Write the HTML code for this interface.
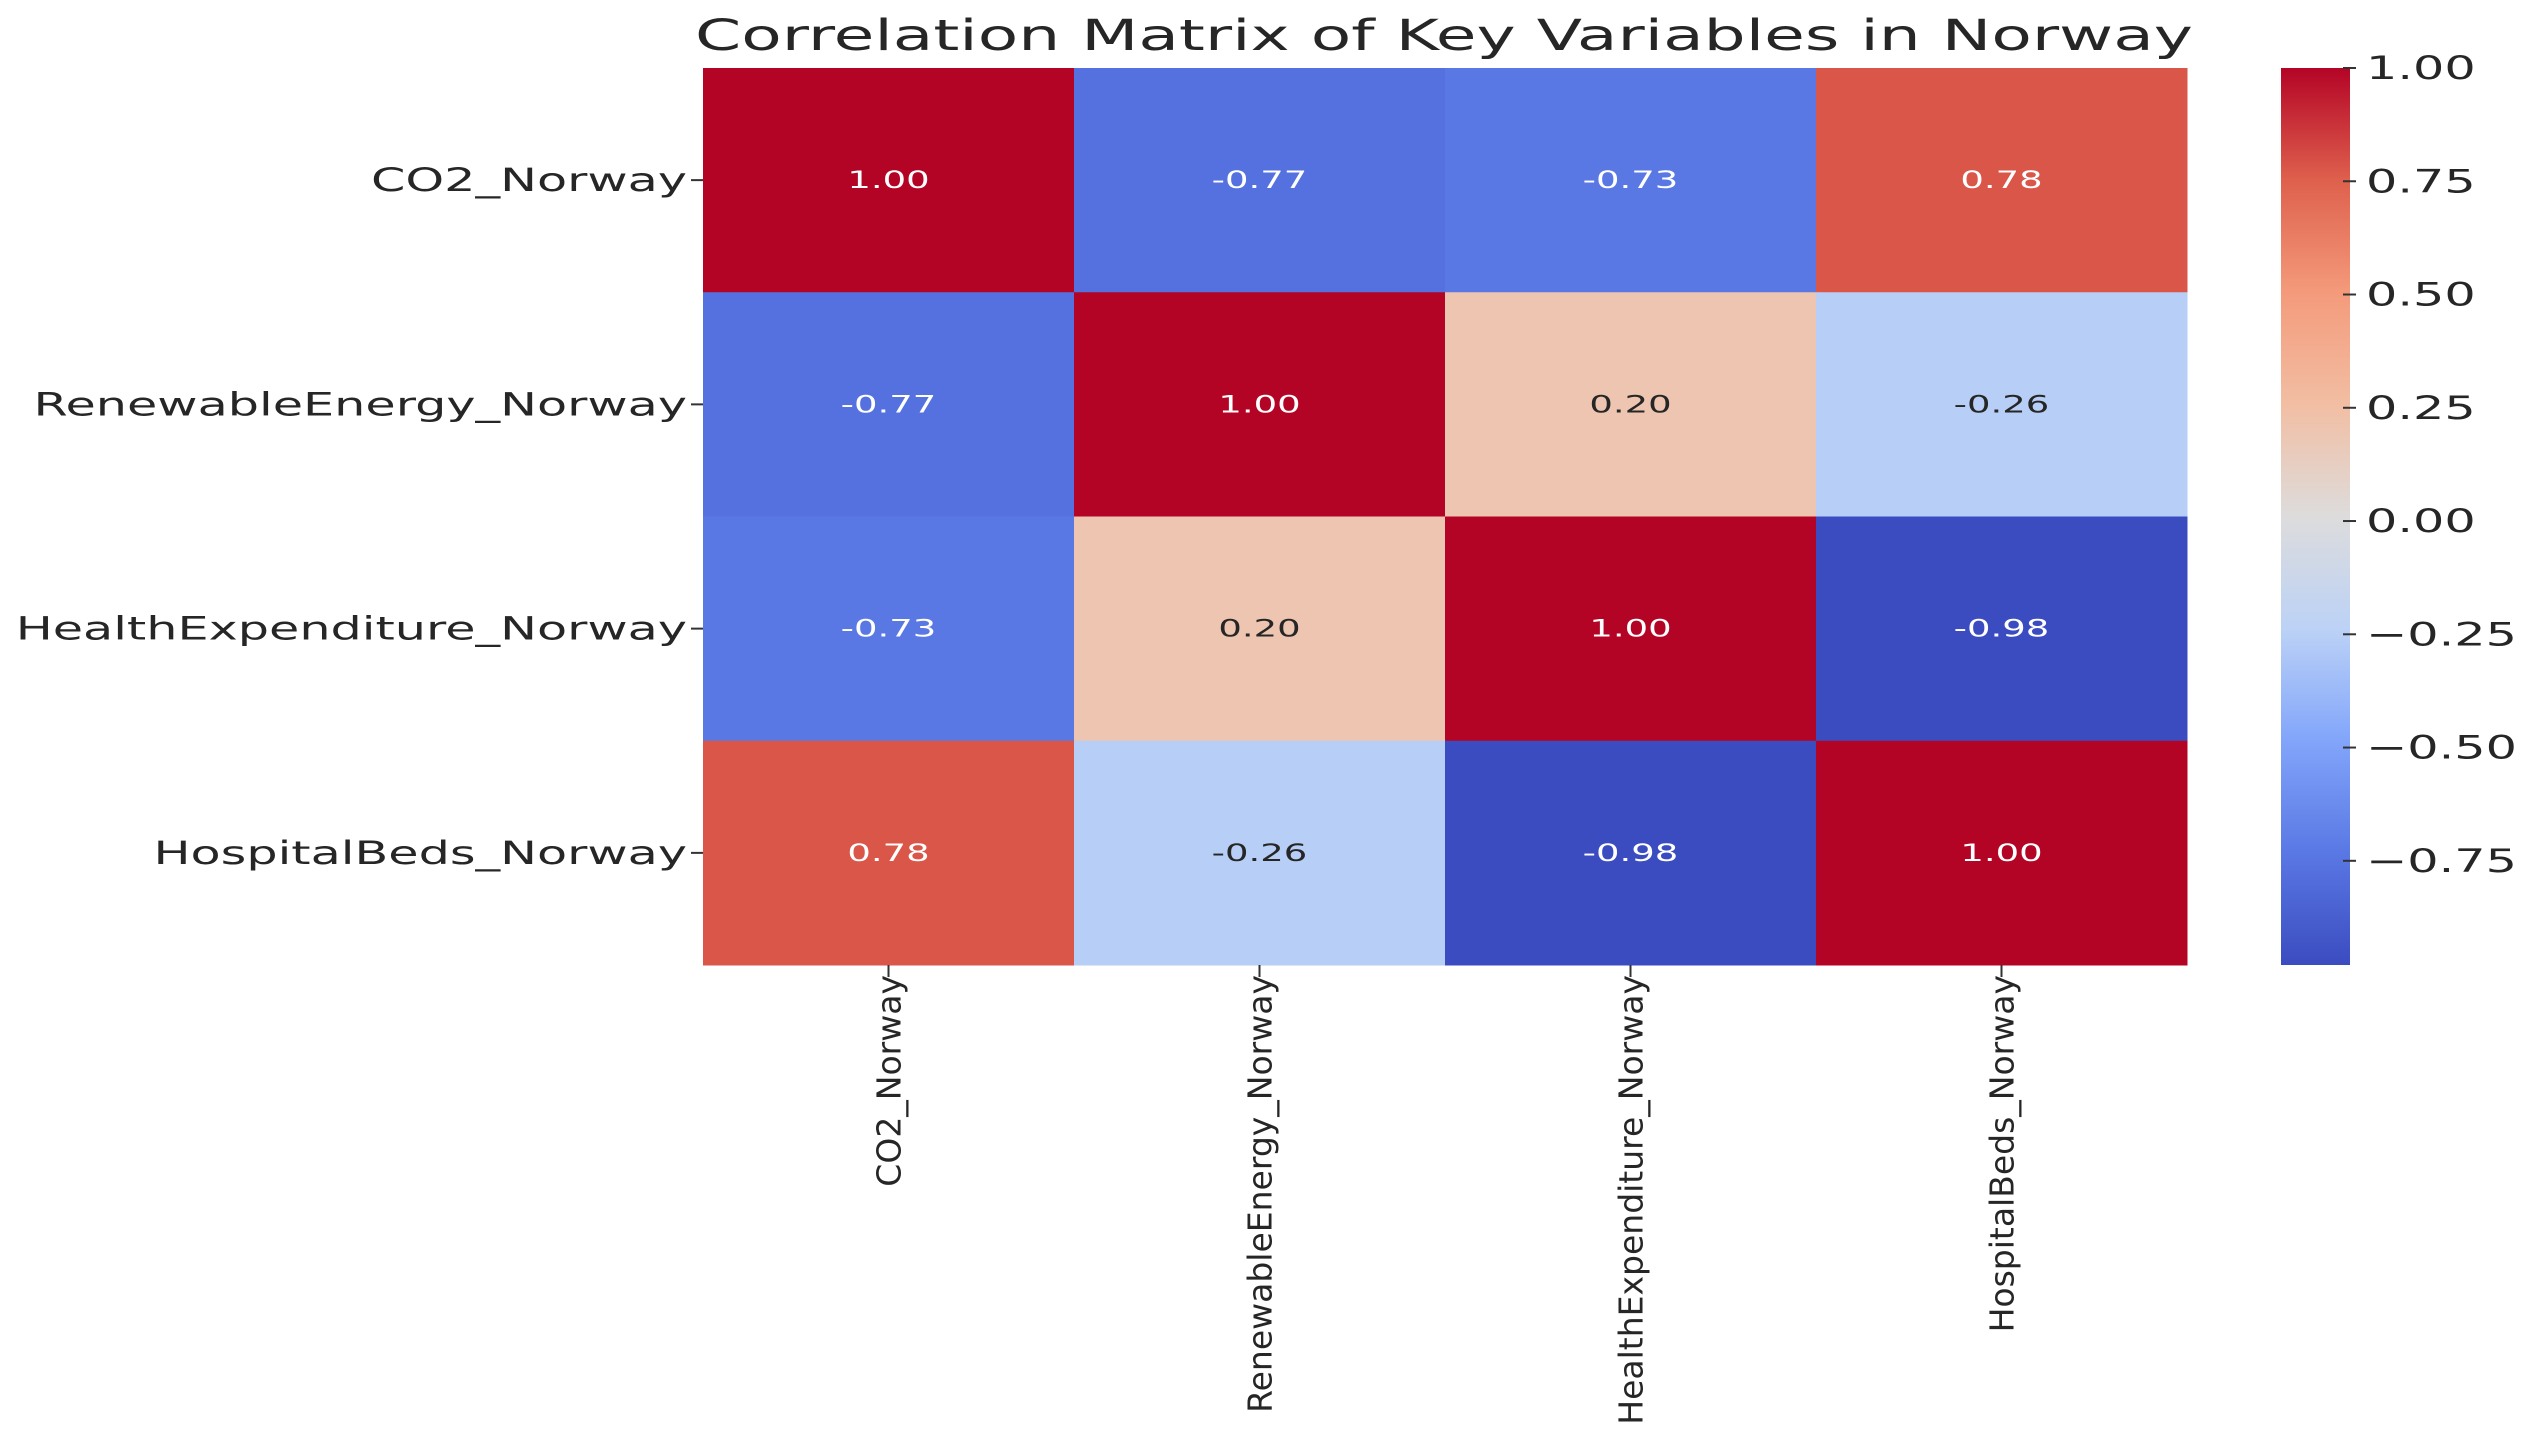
<!DOCTYPE html>
<html><head><meta charset="utf-8"><style>
html,body{margin:0;padding:0;background:#fff;}
svg{display:block;font-family:"DejaVu Sans","Liberation Sans",sans-serif;}
</style></head><body>
<svg id="chart" width="2529" height="1432" viewBox="0 0 2529 1432" xmlns="http://www.w3.org/2000/svg">
<defs>
<linearGradient id="cbgrad" x1="0" y1="1" x2="0" y2="0">
<stop offset="0" stop-color="rgb(59,76,192)"/>
<stop offset="0.125" stop-color="rgb(90,120,228)"/>
<stop offset="0.25" stop-color="rgb(130,165,250)"/>
<stop offset="0.375" stop-color="rgb(188,210,246)"/>
<stop offset="0.5" stop-color="rgb(221,220,220)"/>
<stop offset="0.625" stop-color="rgb(242,190,163)"/>
<stop offset="0.75" stop-color="rgb(244,154,123)"/>
<stop offset="0.875" stop-color="rgb(222,96,77)"/>
<stop offset="1" stop-color="rgb(180,4,38)"/>
</linearGradient>
</defs>
<g transform="translate(1444,50) scale(1.54,1)"><text x="0" y="0" text-anchor="middle" font-size="43" fill="#262626">Correlation Matrix of Key Variables in Norway</text></g>
<g id="cells"></g>
<g id="axes"></g>
<rect x="2281" y="68" width="69" height="897" fill="url(#cbgrad)"/>
<g id="cbticks"></g>
</svg>
<script>
const categories = ["CO2_Norway","RenewableEnergy_Norway","HealthExpenditure_Norway","HospitalBeds_Norway"];
const row0 = [1.00,-0.77,-0.73,0.78];
const row1 = [-0.77,1.00,0.20,-0.26];
const row2 = [-0.73,0.20,1.00,-0.98];
const row3 = [0.78,-0.26,-0.98,1.00];
const matrix = [row0,row1,row2,row3];
const cbTickValues = [1.00,0.75,0.50,0.25,0.00,-0.25,-0.50,-0.75];
const cbTickLabels = ["1.00","0.75","0.50","0.25","0.00","\u22120.25","\u22120.50","\u22120.75"];
const vmin = -0.98, vmax = 1.0;

const NS="http://www.w3.org/2000/svg";
const X0=703, Y0=68, W=1484, H=897;
const cw=W/categories.length, ch=H/categories.length;
const xPos=i=>X0+cw*i, yPos=i=>Y0+ch*i;
const anchors=[[0,59,76,192],[0.125,90,120,228],[0.25,130,165,250],[0.375,188,210,246],[0.5,221,220,220],[0.625,242,190,163],[0.75,244,154,123],[0.875,222,96,77],[1,180,4,38]];
function cmap(v){let t=(v-vmin)/(vmax-vmin);t=Math.max(0,Math.min(1,t));
 for(let k=0;k<anchors.length-1;k++){const a=anchors[k],b=anchors[k+1];
  if(t<=b[0]){const f=(t-a[0])/(b[0]-a[0]);return [0,1,2].map(j=>Math.round(a[j+1]+(b[j+1]-a[j+1])*f));}}
 return [180,4,38];}
function mk(tag,attrs,parent){const e=document.createElementNS(NS,tag);for(const k in attrs)e.setAttribute(k,attrs[k]);parent.appendChild(e);return e;}
const cells=document.getElementById('cells'), axes=document.getElementById('axes'), cb=document.getElementById('cbticks');
matrix.forEach((row,r)=>row.forEach((v,c)=>{
 const col=cmap(v);
 const rect=mk('rect',{x:xPos(c),y:yPos(r),width:cw+0.5,height:ch+0.5,fill:`rgb(${col.join(',')})`},cells);
 
 
 const lum=0.299*col[0]+0.587*col[1]+0.114*col[2];
 const g=mk('g',{transform:`translate(${xPos(c)+cw/2},${yPos(r)+ch/2+8}) scale(1.54,1)`},cells);
 const t=mk('text',{x:0,y:0,'text-anchor':'middle','font-size':24,fill:lum>150?'#262626':'#ffffff'},g);
 t.textContent=v.toFixed(2);
 
 
}));
categories.forEach((name,i)=>{
 const cy=yPos(i)+ch/2;
 mk('line',{x1:X0-12,y1:cy,x2:X0,y2:cy,stroke:'#333','stroke-width':2},axes);
 const g=mk('g',{transform:`translate(${X0-16},${cy+11}) scale(1.54,1)`},axes);
 const t=mk('text',{x:0,y:0,'text-anchor':'end','font-size':32,fill:'#262626'},g);
 t.textContent=name;
 
 
 const cx=xPos(i)+cw/2;
 mk('line',{x1:cx,y1:Y0+H,x2:cx,y2:Y0+H+12,stroke:'#333','stroke-width':2},axes);
 const t2=mk('text',{x:0,y:0,'text-anchor':'end','font-size':33,fill:'#262626',transform:`translate(${cx+12},${Y0+H+10}) rotate(-90)`},axes);
 t2.textContent=name;
 
 
});
cbTickValues.forEach((v,i)=>{
 const y=Y0+H*(vmax-v)/(vmax-vmin);
 mk('line',{x1:2343,y1:y,x2:2356,y2:y,stroke:'#333','stroke-width':2},cb);
 const g=mk('g',{transform:`translate(2366,${y+11}) scale(1.54,1)`},cb);
 const t=mk('text',{x:0,y:0,'font-size':32,fill:'#262626'},g);
 t.textContent=cbTickLabels[i];
 
 
});
</script>
</body></html>
